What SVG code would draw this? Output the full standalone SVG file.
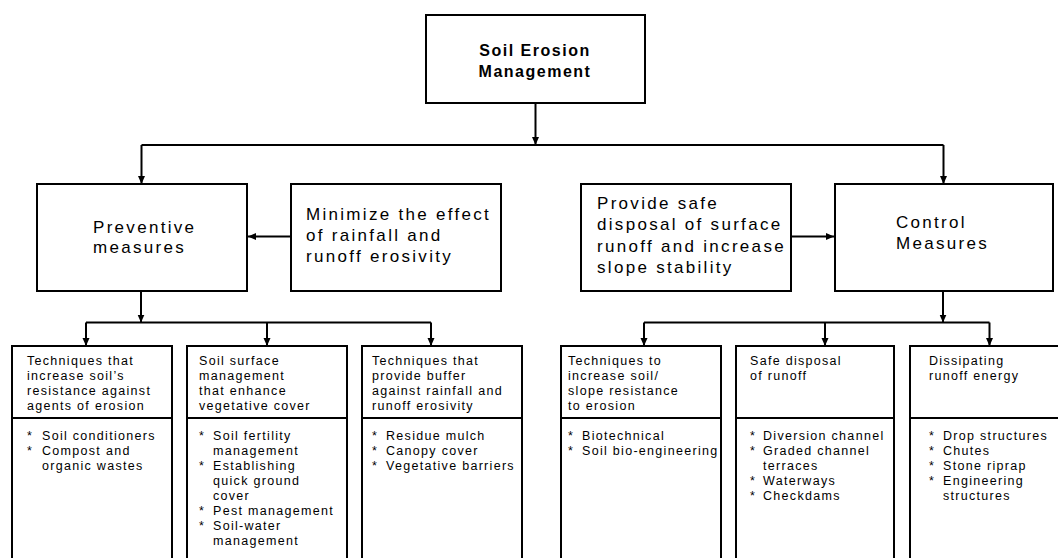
<svg xmlns="http://www.w3.org/2000/svg" width="1058" height="558" viewBox="0 0 1058 558">
<style>
  .box { fill: #ffffff; stroke: #000000; stroke-width: 2; }
  .div { stroke: #000000; stroke-width: 2; fill: none; }
  .conn { stroke: #000000; stroke-width: 2; fill: none; }
  .title { font-family: "Liberation Sans", Arial, sans-serif; font-size: 16px; font-weight: bold; letter-spacing: 1.5px; fill: #000; }
  .mid { font-family: "Liberation Sans", Arial, sans-serif; font-size: 17px; letter-spacing: 2.3px; fill: #000; }
  .sm { font-family: "Liberation Sans", Arial, sans-serif; font-size: 12.5px; letter-spacing: 1.3px; fill: #000; }
</style>
<defs>
  <marker id="arr" markerUnits="userSpaceOnUse" viewBox="0 0 8 8" refX="8" refY="4" markerWidth="8" markerHeight="8" orient="auto">
    <path d="M0,0.5 L8,4 L0,7.5 Z" fill="#000"/>
  </marker>
</defs>
<rect width="1058" height="558" fill="#ffffff"/>

<g id="connectors">
  <path class="conn" d="M535.5,104 V145" marker-end="url(#arr)"/>
  <path class="conn" d="M141.5,145 H943.5"/>
  <path class="conn" d="M141.5,145 V184" marker-end="url(#arr)"/>
  <path class="conn" d="M943.5,145 V184" marker-end="url(#arr)"/>
  <path class="conn" d="M291,236.5 H248" marker-end="url(#arr)"/>
  <path class="conn" d="M791,236.5 H834" marker-end="url(#arr)"/>
  <path class="conn" d="M141,292 V322.5" marker-end="url(#arr)"/>
  <path class="conn" d="M86,322.5 H431"/>
  <path class="conn" d="M86,322.5 V346" marker-end="url(#arr)"/>
  <path class="conn" d="M267,322.5 V346" marker-end="url(#arr)"/>
  <path class="conn" d="M431,322.5 V346" marker-end="url(#arr)"/>
  <path class="conn" d="M943,292 V322.5" marker-end="url(#arr)"/>
  <path class="conn" d="M644,322.5 H989.5"/>
  <path class="conn" d="M644,322.5 V346" marker-end="url(#arr)"/>
  <path class="conn" d="M825,322.5 V346" marker-end="url(#arr)"/>
  <path class="conn" d="M989.5,322.5 V346" marker-end="url(#arr)"/>
</g>

<g id="root">
  <rect class="box" x="426" y="15" width="219" height="88"/>
  <text class="title" x="535" y="55.5" text-anchor="middle">Soil Erosion</text>
  <text class="title" x="535" y="77" text-anchor="middle">Management</text>
</g>

<g id="preventive">
  <rect class="box" x="37" y="184" width="210" height="107"/>
  <text class="mid" x="93" y="232.5">Preventive</text>
  <text class="mid" x="93" y="252.5">measures</text>
</g>

<g id="minimize">
  <rect class="box" x="291" y="184" width="210" height="107"/>
  <text class="mid" x="306" y="219.5">Minimize the effect</text>
  <text class="mid" x="306" y="240.5">of rainfall and</text>
  <text class="mid" x="306" y="261.5">runoff erosivity</text>
</g>

<g id="provide">
  <rect class="box" x="581" y="184" width="210" height="107"/>
  <text class="mid" x="597" y="208.5">Provide safe</text>
  <text class="mid" x="597" y="230">disposal of surface</text>
  <text class="mid" x="597" y="251.5">runoff and increase</text>
  <text class="mid" x="597" y="273">slope stability</text>
</g>

<g id="control">
  <rect class="box" x="835" y="184" width="218" height="107"/>
  <text class="mid" x="896" y="227.5">Control</text>
  <text class="mid" x="896" y="248.5">Measures</text>
</g>

<g id="box1">
  <rect class="box" x="12" y="346" width="160" height="240"/>
  <line class="div" x1="12" y1="418" x2="172" y2="418"/>
  <text class="sm" x="27" y="365">Techniques that</text>
  <text class="sm" x="27" y="380">increase soil’s</text>
  <text class="sm" x="27" y="395">resistance against</text>
  <text class="sm" x="27" y="410">agents of erosion</text>
  <text class="sm" x="27" y="440">*</text><text class="sm" x="42" y="440">Soil conditioners</text>
  <text class="sm" x="27" y="455">*</text><text class="sm" x="42" y="455">Compost and</text>
  <text class="sm" x="42" y="470">organic wastes</text>
</g>

<g id="box2">
  <rect class="box" x="187" y="346" width="160" height="240"/>
  <line class="div" x1="187" y1="418" x2="347" y2="418"/>
  <text class="sm" x="199" y="365">Soil surface</text>
  <text class="sm" x="199" y="380">management</text>
  <text class="sm" x="199" y="395">that enhance</text>
  <text class="sm" x="199" y="410">vegetative cover</text>
  <text class="sm" x="199" y="440">*</text><text class="sm" x="213" y="440">Soil fertility</text>
  <text class="sm" x="213" y="455">management</text>
  <text class="sm" x="199" y="470">*</text><text class="sm" x="213" y="470">Establishing</text>
  <text class="sm" x="213" y="485">quick ground</text>
  <text class="sm" x="213" y="500">cover</text>
  <text class="sm" x="199" y="515">*</text><text class="sm" x="213" y="515">Pest management</text>
  <text class="sm" x="199" y="530">*</text><text class="sm" x="213" y="530">Soil-water</text>
  <text class="sm" x="213" y="545">management</text>
</g>

<g id="box3">
  <rect class="box" x="362" y="346" width="160" height="240"/>
  <line class="div" x1="362" y1="418" x2="522" y2="418"/>
  <text class="sm" x="372" y="365">Techniques that</text>
  <text class="sm" x="372" y="380">provide buffer</text>
  <text class="sm" x="372" y="395">against rainfall and</text>
  <text class="sm" x="372" y="410">runoff erosivity</text>
  <text class="sm" x="372" y="440">*</text><text class="sm" x="386" y="440">Residue mulch</text>
  <text class="sm" x="372" y="455">*</text><text class="sm" x="386" y="455">Canopy cover</text>
  <text class="sm" x="372" y="470">*</text><text class="sm" x="386" y="470">Vegetative barriers</text>
</g>

<g id="box4">
  <rect class="box" x="561" y="346" width="160" height="240"/>
  <line class="div" x1="561" y1="418" x2="721" y2="418"/>
  <text class="sm" x="568" y="365">Techniques to</text>
  <text class="sm" x="568" y="380">increase soil/</text>
  <text class="sm" x="568" y="395">slope resistance</text>
  <text class="sm" x="568" y="410">to erosion</text>
  <text class="sm" x="568" y="440">*</text><text class="sm" x="582" y="440">Biotechnical</text>
  <text class="sm" x="568" y="455">*</text><text class="sm" x="582" y="455" letter-spacing="1.1">Soil bio-engineering</text>
</g>

<g id="box5">
  <rect class="box" x="736" y="346" width="158" height="240"/>
  <line class="div" x1="736" y1="418" x2="894" y2="418"/>
  <text class="sm" x="750" y="365">Safe disposal</text>
  <text class="sm" x="750" y="380">of runoff</text>
  <text class="sm" x="750" y="440">*</text><text class="sm" x="763" y="440">Diversion channel</text>
  <text class="sm" x="750" y="455">*</text><text class="sm" x="763" y="455">Graded channel</text>
  <text class="sm" x="763" y="470">terraces</text>
  <text class="sm" x="750" y="485">*</text><text class="sm" x="763" y="485">Waterways</text>
  <text class="sm" x="750" y="500">*</text><text class="sm" x="763" y="500">Checkdams</text>
</g>

<g id="box6">
  <rect class="box" x="910" y="346" width="160" height="240"/>
  <line class="div" x1="910" y1="418" x2="1070" y2="418"/>
  <text class="sm" x="929" y="365">Dissipating</text>
  <text class="sm" x="929" y="380">runoff energy</text>
  <text class="sm" x="929" y="440">*</text><text class="sm" x="943" y="440">Drop structures</text>
  <text class="sm" x="929" y="455">*</text><text class="sm" x="943" y="455">Chutes</text>
  <text class="sm" x="929" y="470">*</text><text class="sm" x="943" y="470">Stone riprap</text>
  <text class="sm" x="929" y="485">*</text><text class="sm" x="943" y="485">Engineering</text>
  <text class="sm" x="943" y="500">structures</text>
</g>
</svg>
